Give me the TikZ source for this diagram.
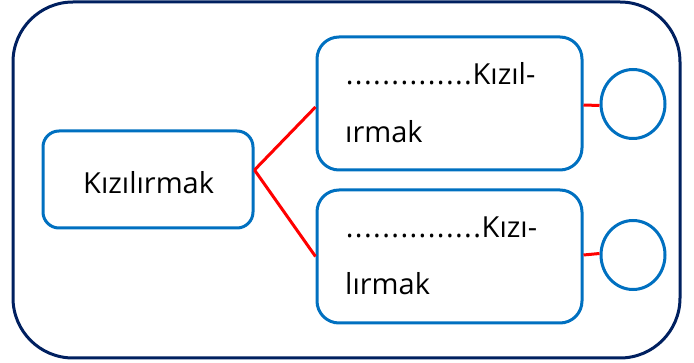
\documentclass[tikz,border=0pt]{standalone}
\usepackage{fontspec}
\setmainfont{Open Sans}
\usetikzlibrary{shapes.geometric}
\definecolor{boxblue}{HTML}{0070C0}
\definecolor{navyline}{HTML}{002060}
\definecolor{redline}{HTML}{FF0000}
\newcommand\dotrow[1]{\hbox to #1{\xleaders\hbox to 9.1pt{\hss.\hss}\hfill}}
\begin{document}
\begin{tikzpicture}[x=1pt,y=-1pt,
  bluebox/.style={draw=boxblue, line width=3pt, rounded corners=#1, inner sep=0pt},
  ring/.style={draw=boxblue, line width=3pt, ellipse, minimum width=64pt, minimum height=69pt, inner sep=0pt},
  redcon/.style={draw=redline, line width=3pt},
  txt/.style={anchor=base west, inner sep=0pt, font=\fontsize{29}{35}\selectfont}]
\useasboundingbox (0,0) rectangle (694,363);
\draw[draw=navyline, line width=3pt, rounded corners=60pt] (13,2) rectangle (680,358);
\node[bluebox=16pt, minimum width=210pt, minimum height=97pt] (L) at (148,179.5) {};
\node[bluebox=22pt, minimum width=265pt, minimum height=133pt] (U) at (449.5,103.5) {};
\node[bluebox=22pt, minimum width=265pt, minimum height=133pt] (D) at (449.5,256.5) {};
\node[ring] (C1) at (633,104) {};
\node[ring] (C2) at (633,255) {};
\node[txt] (tL) at (83,194) {Kızılırmak};
\node[txt] (tU1) at (345,85) {\dotrow{127.5pt}Kızıl-};
\node[txt] (tU2) at (345,143) {ırmak};
\node[txt] (tD1) at (345,238) {\dotrow{136.6pt}Kızı-};
\node[txt] (tD2) at (345,295) {lırmak};
\draw[redcon] ([yshift=9.5pt]L.east) -- ([yshift=-3.5pt]U.west);
\draw[redcon] ([yshift=9.5pt]L.east) -- (D.west);
\draw[redcon] ([yshift=-1.5pt]U.east) -- ([yshift=-1.5pt]C1.west);
\draw[redcon] ([yshift=1.5pt]D.east) -- ([yshift=1.5pt]C2.west);
\end{tikzpicture}
\end{document}
